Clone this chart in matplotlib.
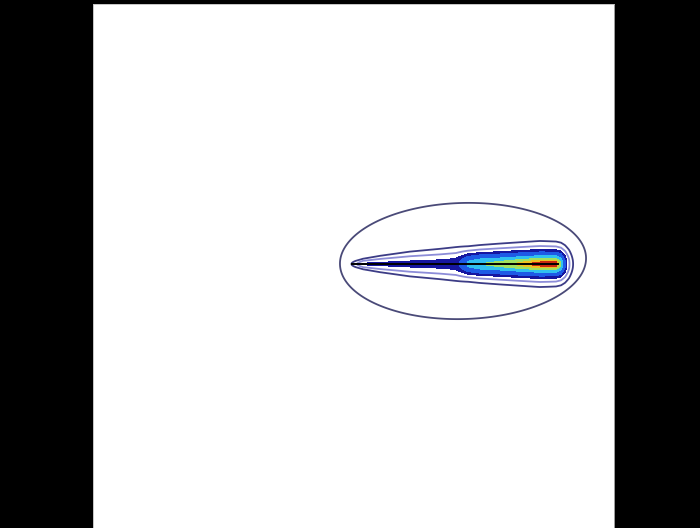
import numpy as np
import matplotlib
matplotlib.use("Agg")
import matplotlib.pyplot as plt

# frame in screen pixels (x to the right, y downwards)
X_RANGE = (93, 614)
Y_RANGE = (528, 4)

# outer envelope (broad cloud)
CLOUD_CENTER = (463, 261)
CLOUD_SIGMA = (61.5, 29.0)
CLOUD_TILT_DEG = -1.6
CLOUD_LEVEL = 0.135

# plume axis and its along-axis profile
PLUME_Y = 264
PLUME_X = [350, 356, 363, 380, 410, 440, 456, 468, 480, 500, 520, 535, 548, 556, 561, 565, 569, 573, 577]
PLUME_PEAK = [0.006, 0.05, 0.17, 0.18, 0.19, 0.2, 0.22, 0.6, 0.74, 0.8, 0.9, 0.97, 1.0, 1.0, 0.75, 0.32, 0.077, 0.0105, 0.001]
SIGMA_X = [350, 356, 363, 380, 410, 440, 456, 468, 500, 540, 556, 577]
SIGMA_Y = [1.8, 1.8, 2.2, 3.4, 5.1, 6.2, 6.8, 6.2, 6.9, 7.6, 7.4, 6.8]

LINE_LEVELS = [0.01, 0.06]
LINE_COLORS = ["#3c3c86", "#8c8cd8"]
FILL_LEVELS = [0.16, 0.28, 0.55, 0.75, 0.88, 0.95, 1.01]
FILL_COLORS = ["#1616a0", "#1e5ae6", "#30c0f0", "#a0e060", "#f0c020", "#c82810"]

TRACK_X = [352, 558]
TRACK_Y = [264, 264]

# ------------------ fields ------------------
xx, yy = np.meshgrid(np.arange(300, 620, 0.5), np.arange(180, 345, 0.5))

t = np.deg2rad(CLOUD_TILT_DEG)
dx, dy = xx - CLOUD_CENTER[0], yy - CLOUD_CENTER[1]
u = dx * np.cos(t) + dy * np.sin(t)
v = -dx * np.sin(t) + dy * np.cos(t)
cloud = np.exp(-0.5 * ((u / CLOUD_SIGMA[0]) ** 2 + (v / CLOUD_SIGMA[1]) ** 2))

peak = np.exp(np.interp(xx, PLUME_X, np.log(PLUME_PEAK), left=-20, right=-20))
sig = np.interp(xx, SIGMA_X, SIGMA_Y)
plume = peak * np.exp(-0.5 * ((yy - PLUME_Y) / sig) ** 2)

# ------------------ plot ------------------
fig = plt.figure(figsize=(7, 5.28), dpi=100, facecolor="black")
ax = fig.add_axes([X_RANGE[0] / 700, 0, (X_RANGE[1] - X_RANGE[0]) / 700, (Y_RANGE[0] - Y_RANGE[1]) / 528])
ax.set_facecolor("white")

ax.contour(xx, yy, cloud, levels=[CLOUD_LEVEL], colors=["#4a4a78"], linewidths=1.3)
ax.contourf(xx, yy, plume, levels=FILL_LEVELS, colors=FILL_COLORS)
ax.contour(xx, yy, plume, levels=LINE_LEVELS, colors=LINE_COLORS, linewidths=1.3)
ax.plot(TRACK_X, TRACK_Y, color="black", lw=1.4)

ax.set_xlim(*X_RANGE)
ax.set_ylim(*Y_RANGE)
ax.set_xticks([])
ax.set_yticks([])
for s in ax.spines.values():
    s.set_color("#bbbbbb")
    s.set_linewidth(0.6)

fig.savefig("out.png", dpi=100, facecolor="black")
